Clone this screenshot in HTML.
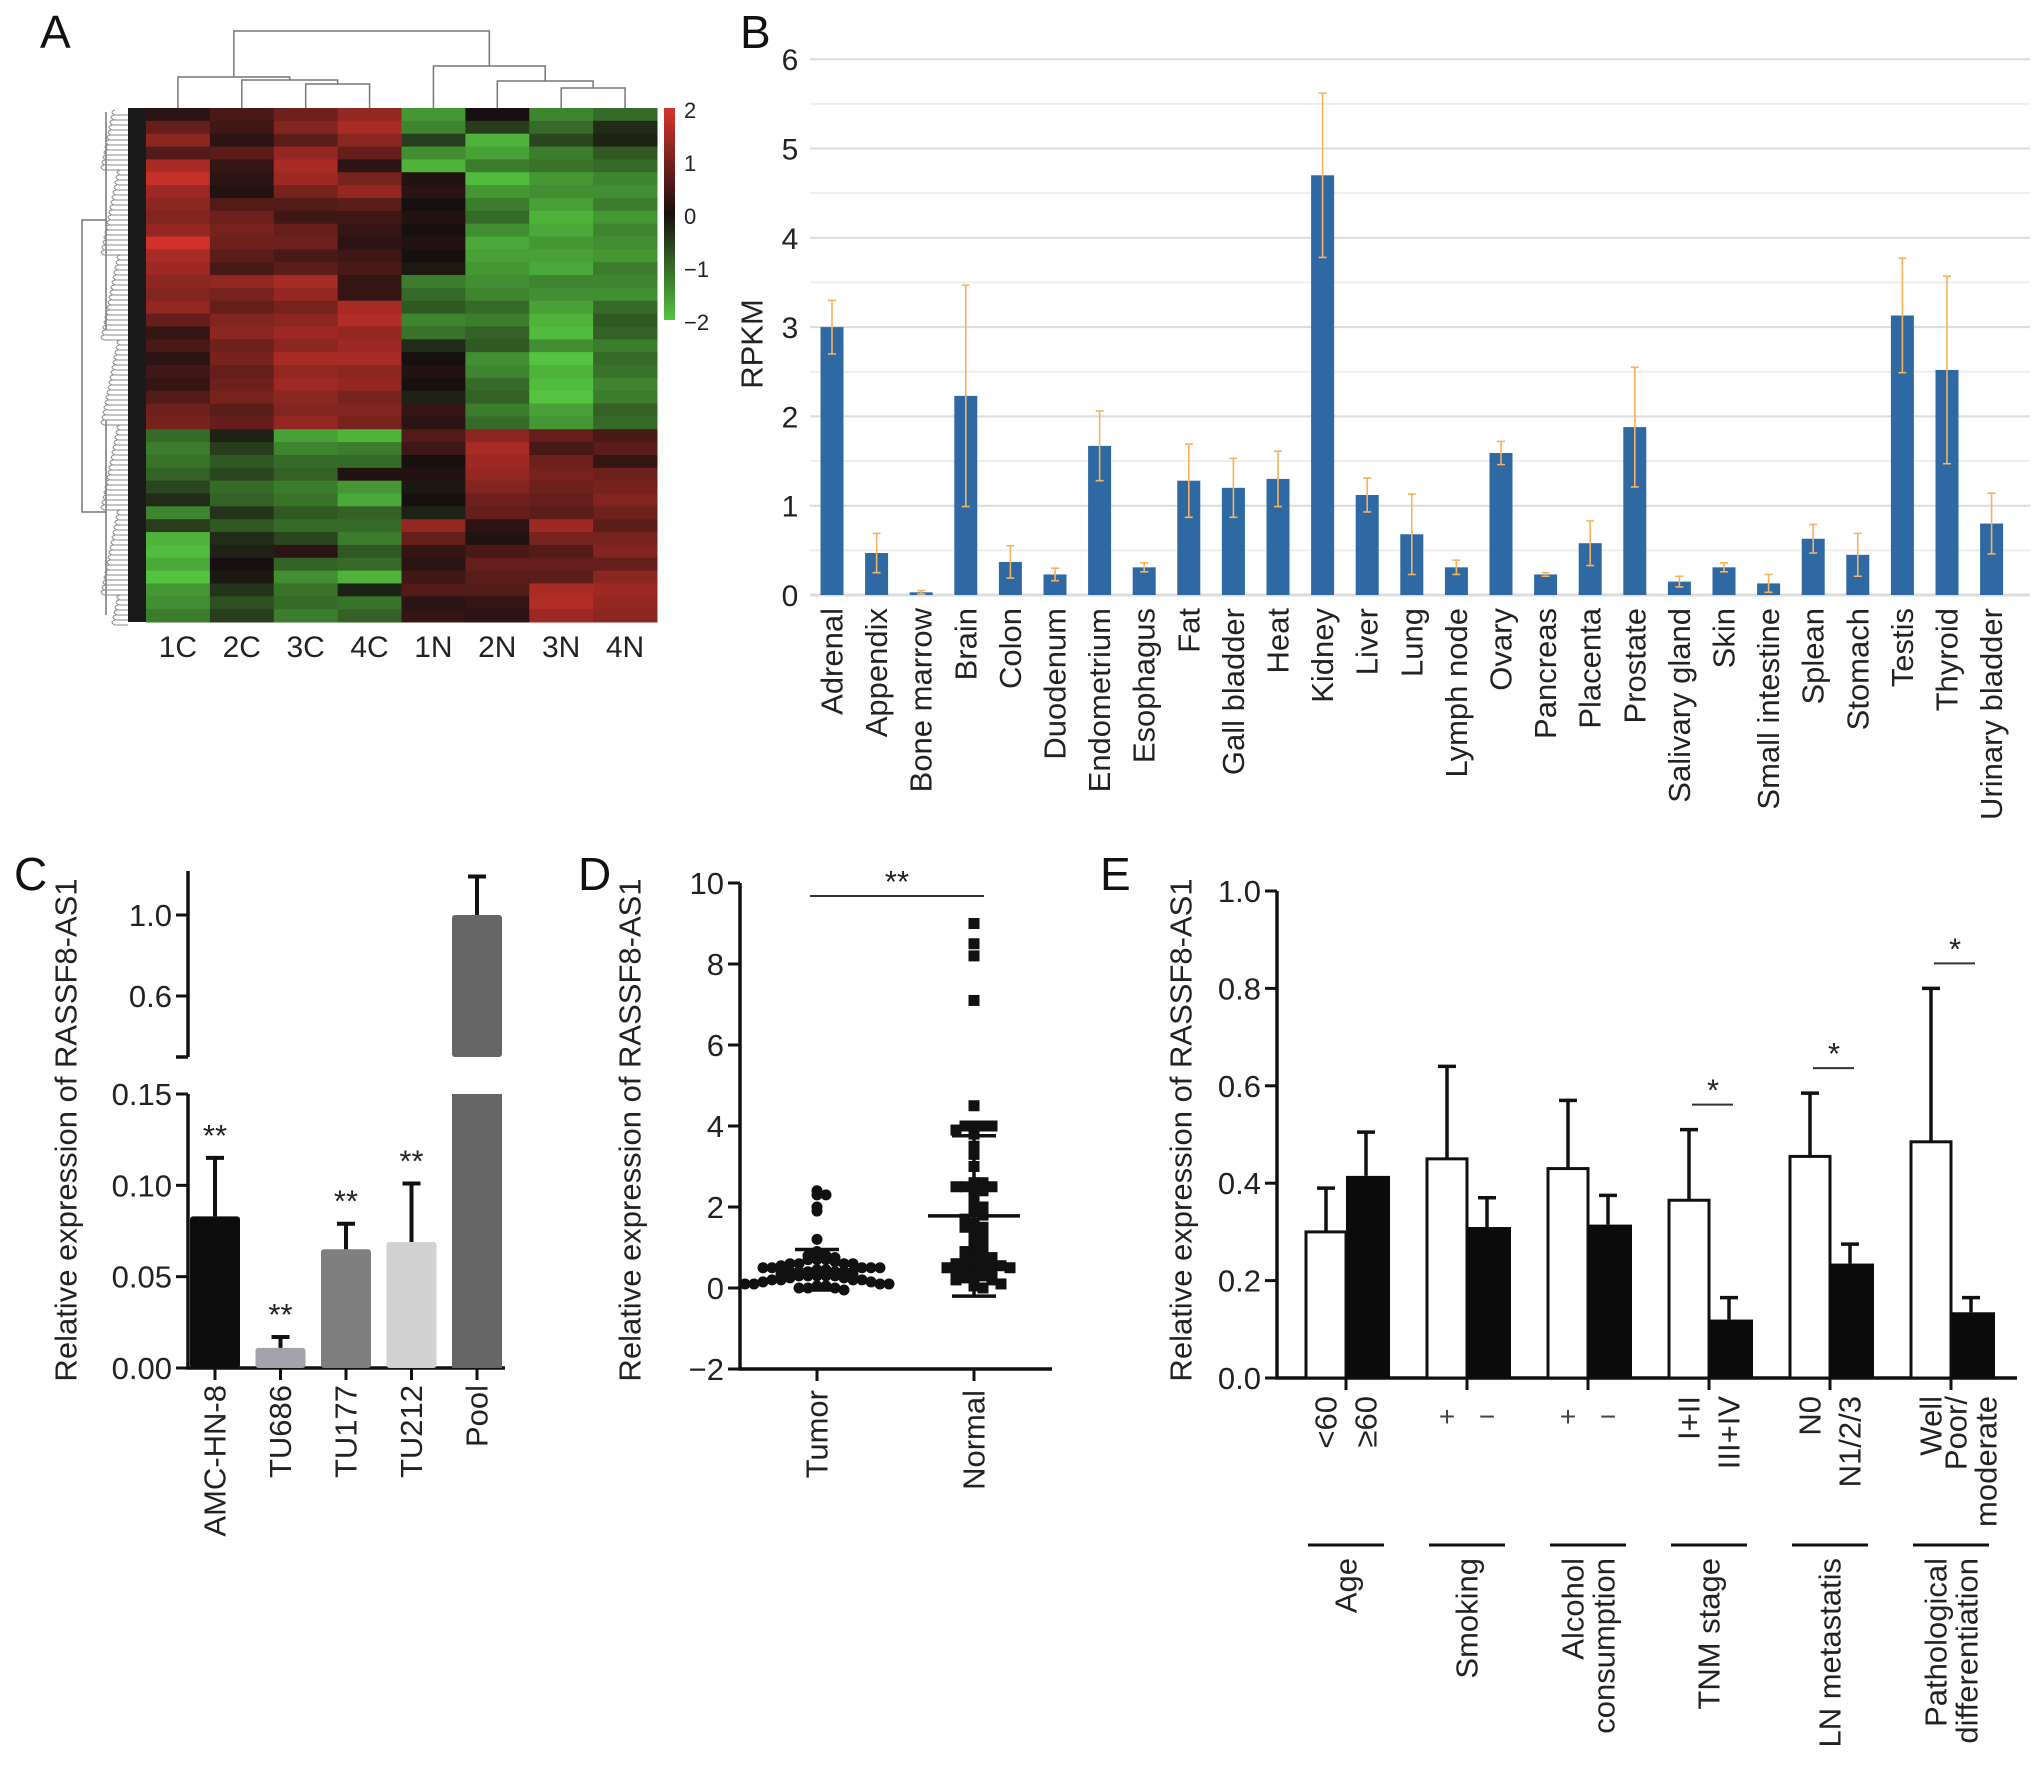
<!DOCTYPE html>
<html><head><meta charset="utf-8"><style>
html,body{margin:0;padding:0;background:#fff;}
svg{display:block;font-family:"Liberation Sans",Arial,sans-serif;}
</style></head><body>
<svg id="fig" width="2032" height="1773" viewBox="0 0 2032 1773" xmlns="http://www.w3.org/2000/svg">
<g font-size="46" fill="#111">
<text x="40" y="48">A</text>
<text x="740" y="48">B</text>
<text x="14" y="890">C</text>
<text x="578" y="890">D</text>
<text x="1100" y="890">E</text>
</g>
<g id="pa"></g>
<g id="pb"></g>
<g id="pc"></g>
<g id="pd"></g>
<g id="pe"></g>
</svg>
<script>
// ---------- Panel A data ----------
const hmCols = ["1C","2C","3C","4C","1N","2N","3N","4N"];
const hm1C = [0.2,0.8,1.2,0.6,1.5,1.8,1.4,1.2,1.1,1.3,1.9,1.5,1.4,1.2,1.1,1.3,0.8,0.3,0.5,0.2,0.4,0.3,0.6,0.9,1.0,-1.0,-1.2,-1.1,-0.9,-0.6,-0.3,-1.3,-0.5,-1.8,-1.9,-1.7,-2.0,-1.5,-1.4,-1.2];
const hm2C = [0.5,0.4,0.2,0.7,0.3,0.2,0.1,0.6,0.9,1.0,0.9,0.7,0.5,1.3,1.0,0.8,1.1,1.2,0.9,1.0,0.8,0.9,1.0,0.7,0.8,-0.2,-0.5,-0.8,-0.6,-1.0,-0.9,-0.4,-0.8,-0.3,-0.2,0.0,-0.1,-0.4,-0.7,-0.5];
const hm3C = [0.9,1.1,0.7,1.3,1.5,1.4,1.0,0.6,0.4,0.8,0.9,0.5,0.7,1.5,1.3,1.0,1.2,1.4,1.2,1.5,1.3,1.4,1.2,1.1,1.3,-1.6,-1.3,-1.0,-0.9,-1.2,-1.1,-0.8,-1.0,-0.6,0.2,-0.9,-1.4,-1.1,-1.0,-1.2];
const hm4C = [1.3,1.5,1.2,0.8,0.2,1.0,1.3,0.7,0.4,0.3,0.2,0.4,0.5,0.3,0.3,1.5,1.6,1.3,1.4,1.5,1.2,1.3,1.0,1.1,1.0,-1.8,-1.2,-1.0,0.1,-1.5,-1.7,-0.9,-1.0,-1.2,-0.8,-1.0,-1.8,-0.2,-1.1,-0.9];
const hm1N = [-1.5,-1.3,-0.5,-1.4,-1.8,0.1,0.2,0.0,0.1,0.0,0.1,0.0,-0.1,-1.2,-1.0,-0.8,-1.3,-1.1,-0.3,0.0,0.1,0.0,-0.2,0.3,0.2,0.6,0.4,0.0,0.1,-0.1,0.0,-0.2,1.3,0.8,0.3,0.2,0.4,0.6,0.2,0.3];
const hm2N = [0.0,-0.5,-1.8,-1.6,-1.2,-1.9,-1.5,-1.2,-1.0,-1.4,-1.7,-1.6,-1.5,-1.4,-1.3,-1.0,-1.2,-0.9,-0.8,-1.4,-1.3,-1.0,-0.9,-1.2,-1.0,1.2,1.5,1.4,1.3,1.1,0.9,0.8,0.2,0.1,0.5,0.8,0.7,0.6,0.3,0.2];
const hm3N = [-1.3,-1.0,-0.6,-1.2,-1.1,-1.5,-1.4,-1.6,-1.8,-1.7,-1.5,-1.6,-1.7,-1.3,-1.4,-1.6,-1.8,-1.9,-1.4,-2.0,-1.8,-1.9,-2.0,-1.6,-1.5,0.8,0.5,0.9,1.0,0.9,0.8,0.7,1.4,1.0,0.6,0.8,0.7,1.5,1.6,1.4];
const hm4N = [-1.0,-0.3,-0.2,-0.8,-1.0,-1.3,-1.4,-1.2,-1.5,-1.3,-1.4,-1.5,-1.2,-1.3,-1.4,-1.0,-0.8,-0.9,-1.2,-1.0,-1.1,-1.3,-1.2,-0.9,-1.0,0.5,0.7,0.3,0.9,1.0,1.1,0.9,0.7,1.0,1.1,0.8,1.2,1.4,1.3,1.2];
const hmScaleTicks = [2,1,0,-1,-2];
// ---------- Panel B data ----------
const bCats = ["Adrenal","Appendix","Bone marrow","Brain","Colon","Duodenum","Endometrium","Esophagus","Fat","Gall bladder","Heat","Kidney","Liver","Lung","Lymph node","Ovary","Pancreas","Placenta","Prostate","Salivary gland","Skin","Small intestine","Splean","Stomach","Testis","Thyroid","Urinary bladder"];
const bVals = [3.0,0.47,0.03,2.23,0.37,0.23,1.67,0.31,1.28,1.2,1.3,4.7,1.12,0.68,0.31,1.59,0.23,0.58,1.88,0.15,0.31,0.13,0.63,0.45,3.13,2.52,0.8];
const bErr = [0.3,0.22,0.02,1.24,0.18,0.07,0.39,0.05,0.41,0.33,0.31,0.92,0.19,0.45,0.08,0.13,0.02,0.25,0.67,0.06,0.05,0.1,0.16,0.24,0.64,1.05,0.34];
const bTicks = [0,1,2,3,4,5,6];
// ---------- Panel C data ----------
const cCats = ["AMC-HN-8","TU686","TU177","TU212","Pool"];
const cVals = [0.083,0.011,0.065,0.069,1.0];
const cErr = [0.032,0.006,0.014,0.032,0.19];
const cSig = ["**","**","**","**",""];
const cLowTicks = [0,0.05,0.10,0.15];
const cLowTickLabels = ["0.00","0.05","0.10","0.15"];
const cHighTicks = [0.6,1.0];
const cHighTickLabels = ["0.6","1.0"];
// ---------- Panel D data ----------
const dGroups = ["Tumor","Normal"];
const dTumor = [2.4,2.3,2.3,2.0,1.9,1.2,0.9,0.85,0.8,0.8,0.75,0.7,0.7,0.7,0.65,0.6,0.6,0.6,0.6,0.55,0.5,0.5,0.5,0.5,0.5,0.45,0.45,0.4,0.4,0.4,0.4,0.4,0.35,0.35,0.3,0.3,0.3,0.3,0.3,0.25,0.25,0.2,0.2,0.2,0.2,0.15,0.15,0.1,0.1,0.1,0.1,0.05,0.05,0.0,0.0,0.0,-0.05];
const dNormal = [9.0,8.5,8.2,7.1,4.5,4.0,4.0,4.0,4.0,3.9,3.8,3.5,3.3,3.0,2.6,2.6,2.5,2.5,2.5,2.4,2.4,2.2,2.0,2.0,1.9,1.8,1.7,1.6,1.5,1.5,1.4,1.3,1.2,1.1,1.0,0.9,0.9,0.85,0.8,0.8,0.75,0.7,0.7,0.65,0.6,0.6,0.55,0.5,0.5,0.45,0.45,0.4,0.4,0.35,0.3,0.3,0.25,0.2,0.2,0.1,0.05,0.0];
const dMean = [0.45,1.78];
const dSD = [0.5,1.98];
const dTicks = [-2,0,2,4,6,8,10];
// ---------- Panel E data ----------
const eGroups = ["Age","Smoking","Alcohol|consumption","TNM stage","LN metastatis","Pathological|differentiation"];
const eLabA = ["<60","+","+","I+II","N0","Well"];
const eLabB = ["≥60","−","−","III+IV","N1/2/3","Poor/|moderate"];
const eValA = [0.30,0.45,0.43,0.365,0.455,0.485];
const eErrA = [0.09,0.19,0.14,0.145,0.13,0.315];
const eValB = [0.415,0.31,0.315,0.12,0.235,0.135];
const eErrB = [0.09,0.06,0.06,0.045,0.04,0.03];
const eSig = ["","","","*","*","*"];
const eTicks = [0,0.2,0.4,0.6,0.8,1.0];

const NS="http://www.w3.org/2000/svg";
const FS=31;
function mk(parent,tag,attrs,text){const e=document.createElementNS(NS,tag);for(const k in attrs)e.setAttribute(k,attrs[k]);if(text!==undefined)e.textContent=text;parent.appendChild(e);return e;}
function rtext(parent,x,y,str,size,anchor){const t=mk(parent,"text",{transform:`translate(${x},${y}) rotate(-90)`,"text-anchor":anchor||"end","dominant-baseline":"central","font-size":size,fill:"#222"},str);return t;}

// ===== Panel A =====
(function(){
  const g=document.getElementById("pa");
  const L=146,R=657,T=108,B=622;
  const cols=[hm1C,hm2C,hm3C,hm4C,hm1N,hm2N,hm3N,hm4N];
  const cw=(R-L)/cols.length, rh=(B-T)/hm1C.length;
  function col(v){const t=Math.min(1,Math.abs(v)/2);const base=[24,16,16];const hi=v>=0?[216,52,44]:[84,196,64];return `rgb(${Math.round(base[0]+(hi[0]-base[0])*t)},${Math.round(base[1]+(hi[1]-base[1])*t)},${Math.round(base[2]+(hi[2]-base[2])*t)})`;}
  cols.forEach((arr,ci)=>{arr.forEach((v,ri)=>{
    const r=mk(g,"rect",{x:L+ci*cw,y:T+ri*rh,width:cw+0.5,height:rh+0.5,fill:col(v)});
    
    
  });});
  hmCols.forEach((c,ci)=>{const t=mk(g,"text",{x:L+(ci+0.5)*cw,y:657,"text-anchor":"middle","font-size":30,fill:"#222"},c);
    
    });
  const cx=i=>L+(i+0.5)*cw;
  const st={stroke:"#777","stroke-width":1.5,fill:"none"};
  function br(x1,x2,y,y1,y2){mk(g,"path",Object.assign({d:`M${x1},${y1}V${y}H${x2}V${y2}`},st));}
  br(cx(2),cx(3),84,T,T); const m34=(cx(2)+cx(3))/2;
  br(cx(1),m34,80,T,84); const m234=(cx(1)+m34)/2;
  br(cx(0),m234,77,T,80); const mC=(cx(0)+m234)/2;
  br(cx(6),cx(7),88,T,T); const m67=(cx(6)+cx(7))/2;
  br(cx(5),m67,81,T,88); const m567=(cx(5)+m67)/2;
  br(cx(4),m567,66,T,81); const mN=(cx(4)+m567)/2;
  br(mC,mN,31,77,66);
  const dg=mk(g,"g",{});
  mk(dg,"rect",{x:128,y:T,width:18,height:B-T,fill:"#1a1a1a"});
  mk(dg,"path",Object.assign({d:`M106,220H82V512H106`},st));
  mk(dg,"path",Object.assign({d:`M106,112V330M106,420V615`},st));
  for(let y=T+2;y<B;y+=5){const w=8+((y*7)%17);mk(dg,"path",{d:`M${128-w},${y}q-6,2 0,5h${w}`,stroke:"#8a8a8a","stroke-width":1,fill:"none"});}
  const defs=mk(document.getElementById("fig"),"defs",{});
  const gr=mk(defs,"linearGradient",{id:"cb",x1:0,y1:0,x2:0,y2:1});
  mk(gr,"stop",{offset:"0","stop-color":"#d8342c"});mk(gr,"stop",{offset:"0.5","stop-color":"#181010"});mk(gr,"stop",{offset:"1","stop-color":"#54c440"});
  mk(g,"rect",{x:664,y:108,width:11,height:212,fill:"url(#cb)",});
  hmScaleTicks.forEach(v=>{const y=108+(2-v)/4*212+6; const t=mk(g,"text",{x:684,y:y+4,"font-size":22,fill:"#222"},v<0?"−"+Math.abs(v):String(v));
    
    });
})();

// ===== Panel B =====
(function(){
  const g=document.getElementById("pb");
  const x0=810,x1=2030,y0=595,ppu=89.3;
  const ys=v=>y0-v*ppu; const step=44.6; const xs=i=>832+i*step;
  for(let v=0;v<=6;v+=0.5){mk(g,"line",{x1:x0,x2:x1,y1:ys(v),y2:ys(v),stroke:v%1===0?"#dcdcdc":"#eeeeee","stroke-width":v===0?3:2});}
  bTicks.forEach(v=>{const t=mk(g,"text",{x:790,y:ys(v)+11,"text-anchor":"middle","font-size":30,fill:"#222"},String(v));
    
    });
  rtext(g,752,344,"RPKM",FS,"middle");
  bCats.forEach((c,i)=>{
    const r=mk(g,"rect",{x:xs(i)-11.5,y:ys(bVals[i]),width:23,height:bVals[i]*ppu,fill:"#2f69a3"});
    
    
    const lo=ys(bVals[i]-bErr[i]),hi=ys(bVals[i]+bErr[i]);
    mk(g,"path",{d:`M${xs(i)},${hi}V${lo}M${xs(i)-4},${hi}h8M${xs(i)-4},${lo}h8`,stroke:"#f6b25e","stroke-width":1.6,fill:"none"});
    const t=rtext(g,xs(i),608,c,FS,"end");
    
    
  });
})();

// ===== Panel C =====
(function(){
  const g=document.getElementById("pc");
  const ax=188, yl0=1368, lppu=(1368-1094)/0.15, hppu=202.5;
  const yl=v=>yl0-v*lppu, yh=v=>915-(v-1.0)*hppu;
  const bw=50, xs=i=>215+i*65.5;
  const S={stroke:"#111","stroke-width":3.5,fill:"none"};
  mk(g,"path",Object.assign({d:`M${ax},${yl(0.15)}V${yl0}H505`},S));
  mk(g,"path",Object.assign({d:`M${ax},871V1057M${ax-12},1057H${ax}`},S));
  cLowTicks.forEach((v,i)=>{mk(g,"line",{x1:ax-12,x2:ax,y1:yl(v),y2:yl(v),stroke:"#111","stroke-width":3});
    const t=mk(g,"text",{x:ax-16,y:yl(v)+11,"text-anchor":"end","font-size":FS,fill:"#222"},cLowTickLabels[i]);
    
    });
  cHighTicks.forEach((v,i)=>{mk(g,"line",{x1:ax-12,x2:ax,y1:yh(v),y2:yh(v),stroke:"#111","stroke-width":3});
    const t=mk(g,"text",{x:ax-16,y:yh(v)+11,"text-anchor":"end","font-size":FS,fill:"#222"},cHighTickLabels[i]);
    
    });
  const fills=["#0d0d0d","#a3a3ad","#7f7f7f","#d2d2d2","#666666"];
  cCats.forEach((c,i)=>{
    const x=xs(i), v=cVals[i], e=cErr[i];
    if(v<=0.15){
      const r=mk(g,"rect",{x:x-bw/2,y:yl(v),width:bw,height:yl0-yl(v),fill:fills[i],rx:3});
      
      
      mk(g,"path",{d:`M${x},${yl(v)}V${yl(v+e)}M${x-9},${yl(v+e)}h18`,stroke:"#111","stroke-width":4,fill:"none"});
      if(cSig[i]) mk(g,"text",{x:x,y:yl(v+e)-12,"text-anchor":"middle","font-size":FS,fill:"#222"},cSig[i]);
    } else {
      const r=mk(g,"rect",{x:x-bw/2,y:yl(0.15),width:bw,height:yl0-yl(0.15),fill:fills[i]});
      
      
      const r2=mk(g,"rect",{x:x-bw/2,y:yh(v),width:bw,height:1057-yh(v),fill:fills[i],rx:3});
      
      
      mk(g,"path",{d:`M${x},${yh(v)}V${yh(v+e)}M${x-9},${yh(v+e)}h18`,stroke:"#111","stroke-width":4,fill:"none"});
    }
    mk(g,"line",{x1:x,x2:x,y1:yl0,y2:yl0+12,stroke:"#111","stroke-width":3});
    const t=rtext(g,x,1385,c,FS,"end");
    
    
  });
  rtext(g,66,1130,"Relative expression of RASSF8-AS1",FS,"middle");
})();

// ===== Panel D =====
(function(){
  const g=document.getElementById("pd");
  const ax=740, ppu=40.5, ys=v=>1369-(v+2)*ppu, gx=[817,974];
  mk(g,"path",{d:`M${ax},883V1369H1052`,stroke:"#111","stroke-width":3.5,fill:"none"});
  dTicks.forEach(v=>{mk(g,"line",{x1:ax-12,x2:ax,y1:ys(v),y2:ys(v),stroke:"#111","stroke-width":3});
    const t=mk(g,"text",{x:ax-16,y:ys(v)+11,"text-anchor":"end","font-size":FS,fill:"#222"},v<0?"−"+Math.abs(v):String(v));
    
    });
  [dTumor,dNormal].forEach((arr,gi)=>{
    const bins={};
    arr.forEach(v=>{const b=Math.round(v/0.2);const k=bins[b]||0;bins[b]=k+1;
      const off=(k===0?0:(k%2?1:-1)*Math.ceil(k/2))*9;
      let p;
      if(gi===0){p=mk(g,"circle",{cx:gx[gi]+off,cy:ys(v),r:5.5,fill:"#111"});}
      else{p=mk(g,"rect",{x:gx[gi]+off-5.5,y:ys(v)-5.5,width:11,height:11,fill:"#111"});}
      
      
    });
    const x=gx[gi], m=dMean[gi], s=dSD[gi];
    mk(g,"path",{d:`M${x-46},${ys(m)}h92M${x},${ys(m-s)}V${ys(m+s)}M${x-22},${ys(m+s)}h44M${x-22},${ys(m-s)}h44`,stroke:"#111","stroke-width":3.5,fill:"none"});
    mk(g,"line",{x1:x,x2:x,y1:1369,y2:1381,stroke:"#111","stroke-width":3});
    const t=rtext(g,x,1390,dGroups[gi],FS,"end");
    
    
  });
  mk(g,"line",{x1:810,x2:984,y1:896,y2:896,stroke:"#333","stroke-width":2});
  mk(g,"text",{x:897,y:892,"text-anchor":"middle","font-size":FS,fill:"#222"},"**");
  rtext(g,630,1130,"Relative expression of RASSF8-AS1",FS,"middle");
})();

// ===== Panel E =====
(function(){
  const g=document.getElementById("pe");
  const ax=1277, y0=1378, ppu=487, ys=v=>y0-v*ppu;
  const px=i=>1306+i*121, bw=40;
  mk(g,"path",{d:`M${ax},${ys(1)}V${y0}H2017`,stroke:"#111","stroke-width":3.5,fill:"none"});
  eTicks.forEach(v=>{mk(g,"line",{x1:ax-12,x2:ax,y1:ys(v),y2:ys(v),stroke:"#111","stroke-width":3});
    const t=mk(g,"text",{x:ax-16,y:ys(v)+11,"text-anchor":"end","font-size":FS,fill:"#222"},v.toFixed(1));
    
    });
  eGroups.forEach((gname,i)=>{
    const xa=px(i), xb=xa+bw;
    const a=mk(g,"rect",{x:xa,y:ys(eValA[i]),width:bw,height:eValA[i]*ppu,fill:"#fff",stroke:"#111","stroke-width":3});
    
    
    const b=mk(g,"rect",{x:xb,y:ys(eValB[i]),width:bw+4,height:eValB[i]*ppu,fill:"#0b0b0b"});
    
    
    const ca=xa+bw/2, cb=xb+bw/2;
    mk(g,"path",{d:`M${ca},${ys(eValA[i])}V${ys(eValA[i]+eErrA[i])}M${ca-9},${ys(eValA[i]+eErrA[i])}h18M${cb},${ys(eValB[i])}V${ys(eValB[i]+eErrB[i])}M${cb-9},${ys(eValB[i]+eErrB[i])}h18`,stroke:"#111","stroke-width":3.5,fill:"none"});
    mk(g,"line",{x1:xb,x2:xb,y1:y0,y2:y0+12,stroke:"#111","stroke-width":3});
    if(eSig[i]){const ys2=ys(eValA[i]+eErrA[i])-25;mk(g,"line",{x1:ca+3,x2:cb+4,y1:ys2,y2:ys2,stroke:"#333","stroke-width":2});
      mk(g,"text",{x:(ca+cb)/2+4,y:ys2-4,"text-anchor":"middle","font-size":FS,fill:"#222"},eSig[i]);}
    [[eLabA[i],ca],[eLabB[i],cb]].forEach(([lab,x])=>{
      if(lab==="+"||lab==="−"){const t=mk(g,"text",{x:x,y:1426,"text-anchor":"middle","font-size":28,fill:"#444"},lab);
        return;}
      const parts=lab.split("|");
      parts.forEach((p,k)=>{const t=rtext(g,x-(parts.length-1)*15+k*30,1396,p,FS,"end");
        
        });
    });
    const gc=(xa+xb+bw)/2;
    mk(g,"line",{x1:gc-38,x2:gc+38,y1:1545,y2:1545,stroke:"#111","stroke-width":3});
    const parts=gname.split("|");
    parts.forEach((p,k)=>{const t=rtext(g,gc-(parts.length-1)*15+k*31,1558,p,FS,"end");
      
      });
  });
  rtext(g,1181,1130,"Relative expression of RASSF8-AS1",FS,"middle");
})();
</script>
</body></html>
